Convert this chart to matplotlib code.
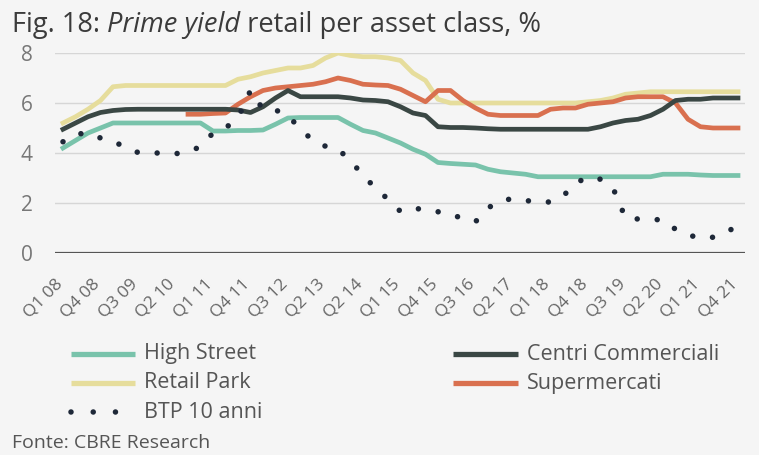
import matplotlib
matplotlib.use("Agg")
import matplotlib.pyplot as plt
import numpy as np
from matplotlib.lines import Line2D
from matplotlib.transforms import ScaledTranslation

# Quarterly categories (one quarter is absent from the source series)
quarters = [
    "Q1 08", "Q2 08", "Q3 08", "Q4 08", "Q1 09", "Q2 09", "Q3 09", "Q4 09",
    "Q1 10", "Q2 10", "Q3 10", "Q4 10", "Q1 11", "Q2 11", "Q3 11", "Q4 11",
    "Q1 12", "Q2 12", "Q3 12", "Q4 12", "Q1 13", "Q2 13", "Q3 13", "Q4 13",
    "Q2 14", "Q3 14", "Q4 14", "Q1 15", "Q2 15", "Q3 15", "Q4 15",
    "Q1 16", "Q2 16", "Q3 16", "Q4 16", "Q1 17", "Q2 17", "Q3 17", "Q4 17",
    "Q1 18", "Q2 18", "Q3 18", "Q4 18", "Q1 19", "Q2 19", "Q3 19", "Q4 19",
    "Q1 20", "Q2 20", "Q3 20", "Q4 20", "Q1 21", "Q2 21", "Q3 21", "Q4 21",
]

high_street = [
    4.2, 4.5, 4.8, 5.0, 5.2, 5.2, 5.2, 5.2, 5.2, 5.2,
    5.2, 5.2, 4.88, 4.88, 4.9, 4.9, 4.92, 5.15, 5.4, 5.42,
    5.42, 5.42, 5.42, 5.15, 4.9, 4.8, 4.6, 4.4, 4.15, 3.95,
    3.62, 3.58, 3.55, 3.52, 3.35, 3.25, 3.2, 3.15, 3.05, 3.05,
    3.05, 3.05, 3.05, 3.05, 3.05, 3.05, 3.05, 3.05, 3.15, 3.15,
    3.15, 3.12, 3.1, 3.1, 3.1,
]

centri_commerciali = [
    4.95, 5.2, 5.45, 5.62, 5.7, 5.74, 5.75, 5.75, 5.75, 5.75,
    5.75, 5.75, 5.75, 5.75, 5.72, 5.62, 5.85, 6.2, 6.5, 6.25,
    6.25, 6.25, 6.25, 6.2, 6.12, 6.1, 6.05, 5.85, 5.6, 5.5,
    5.05, 5.02, 5.02, 5.0, 4.97, 4.95, 4.95, 4.95, 4.95, 4.95,
    4.95, 4.95, 4.95, 5.05, 5.2, 5.3, 5.35, 5.5, 5.75, 6.1,
    6.15, 6.15, 6.2, 6.2, 6.2,
]

retail_park = [
    5.2, 5.45, 5.75, 6.1, 6.65, 6.7, 6.7, 6.7, 6.7, 6.7,
    6.7, 6.7, 6.7, 6.7, 6.95, 7.05, 7.2, 7.3, 7.4, 7.4,
    7.5, 7.8, 8.0, 7.9, 7.85, 7.85, 7.8, 7.7, 7.2, 6.9,
    6.15, 6.0, 6.0, 6.0, 6.0, 6.0, 6.0, 6.0, 6.0, 6.0,
    6.0, 6.0, 6.05, 6.1, 6.2, 6.35, 6.4, 6.45, 6.45, 6.45,
    6.45, 6.45, 6.45, 6.45, 6.45,
]

supermercati = [
    np.nan, np.nan, np.nan, np.nan, np.nan, np.nan, np.nan, np.nan, np.nan, np.nan,
    5.55, 5.55, 5.58, 5.6, 5.95, 6.25, 6.5, 6.6, 6.65, 6.7,
    6.75, 6.85, 7.0, 6.9, 6.75, 6.72, 6.7, 6.55, 6.3, 6.05,
    6.5, 6.5, 6.1, 5.8, 5.55, 5.5, 5.5, 5.5, 5.5, 5.75,
    5.8, 5.8, 5.95, 6.0, 6.05, 6.2, 6.25, 6.25, 6.25, 6.0,
    5.35, 5.05, 5.0, 5.0, 5.0,
]

btp_10_anni = [
    4.45, 4.75, 4.8, 4.6, 4.45, 4.25, 4.02, 4.0, 4.0, 3.97,
    4.05, 4.25, 4.8, 5.0, 5.4, 6.5, 5.75, 5.72, 5.5, 4.95,
    4.5, 4.27, 4.15, 3.7, 3.1, 2.6, 2.15, 1.66, 1.78, 1.75,
    1.65, 1.52, 1.4, 1.25, 1.8, 2.1, 2.17, 2.1, 2.04, 2.04,
    2.27, 2.8, 3.03, 2.95, 2.6, 1.4, 1.36, 1.35, 1.32, 0.95,
    0.72, 0.6, 0.63, 0.85, 1.05,
]

y_ticks = [0, 2, 4, 6, 8]

BG = "#f5f5f5"
TEXT = "#555555"
C_HIGH = "#79c3ab"
C_CENTRI = "#3a4744"
C_RETAIL = "#e6dd9c"
C_SUPER = "#d9704f"
C_BTP = "#1e2838"

FONT = "Open Sans"
plt.rcParams["font.family"] = [FONT, "DejaVu Sans"]

W, H = 759, 455
fig = plt.figure(figsize=(W / 100, H / 100), dpi=100, facecolor=BG)


def fx(px):
    return px / W


def fy(py):
    return 1 - py / H


ax = fig.add_axes([fx(55), fy(253), fx(745) - fx(55), fy(53) - fy(253)])
ax.set_facecolor(BG)

x = np.arange(len(quarters))
lw = 3.4
ax.plot(x, high_street, color=C_HIGH, lw=lw, solid_joinstyle="round", zorder=3)
ax.plot(x, retail_park, color=C_RETAIL, lw=lw, solid_joinstyle="round", zorder=3)
ax.plot(x, supermercati, color=C_SUPER, lw=lw, solid_joinstyle="round", zorder=4)
ax.plot(x, centri_commerciali, color=C_CENTRI, lw=lw, solid_joinstyle="round", zorder=5)
ax.plot(x, btp_10_anni, color=C_BTP, lw=4.0, linestyle=(0, (0.001, 3.6)),
        dash_capstyle="round", zorder=6)

ax.set_xlim(-0.64, 54.56)
ax.set_ylim(0, 8)
ax.set_yticks(y_ticks)
ax.set_yticklabels([str(v) for v in y_ticks])
ax.grid(axis="y", color="#d6d6d6", lw=1.0, zorder=0)
ax.axhline(0, color="#555555", lw=1.6, zorder=2)
for s in ax.spines.values():
    s.set_visible(False)
ax.tick_params(axis="y", length=0, pad=16, labelsize=15, labelcolor="#777777")
ax.tick_params(axis="x", length=0, labelsize=12.5, labelcolor="#666666")

ax.set_xticks(x[::3])
ax.set_xticklabels(quarters[::3], rotation=45, ha="right", va="center",
                   rotation_mode="anchor")
offset = ScaledTranslation(-2 / 72, -17 / 72, fig.dpi_scale_trans)
for lab in ax.get_xticklabels():
    lab.set_transform(lab.get_transform() + offset)

# Title with italic segment
renderer = fig.canvas.get_renderer()
tx = fx(12)
ty = fy(32)
parts = [("Fig. 18: ", "normal"), ("Prime yield", "italic"),
         (" retail per asset class, %", "normal")]
for txt, style in parts:
    t = fig.text(tx, ty, txt, fontsize=19.6, color="#3b3b3b", style=style,
                 ha="left", va="baseline")
    bb = t.get_window_extent(renderer=renderer)
    tx += bb.width / W

# Legend
legend_items = [
    (71, 135, 354, C_HIGH, "High Street", "solid"),
    (71, 135, 383, C_RETAIL, "Retail Park", "solid"),
    (71, 135, 412, C_BTP, "BTP 10 anni", "dots"),
    (453, 518, 354, C_CENTRI, "Centri Commerciali", "solid"),
    (453, 518, 383, C_SUPER, "Supermercati", "solid"),
]
for x0, x1, yy, col, label, kind in legend_items:
    if kind == "solid":
        ln = Line2D([fx(x0), fx(x1)], [fy(yy), fy(yy)], transform=fig.transFigure,
                    color=col, lw=3.8, solid_capstyle="butt")
    else:
        ln = Line2D([fx(x0), fx(x1)], [fy(yy), fy(yy)], transform=fig.transFigure,
                    color=col, lw=4.0, linestyle=(0, (0.001, 4.0)),
                    dash_capstyle="round")
    fig.add_artist(ln)
    fig.text(fx(x1 + 9), fy(yy), label, fontsize=15.5, color=TEXT,
             ha="left", va="center")

fig.text(fx(12), fy(443), "Fonte: CBRE Research", fontsize=14, color=TEXT,
         ha="left", va="center")

fig.savefig("out.png", dpi=100, facecolor=BG)
